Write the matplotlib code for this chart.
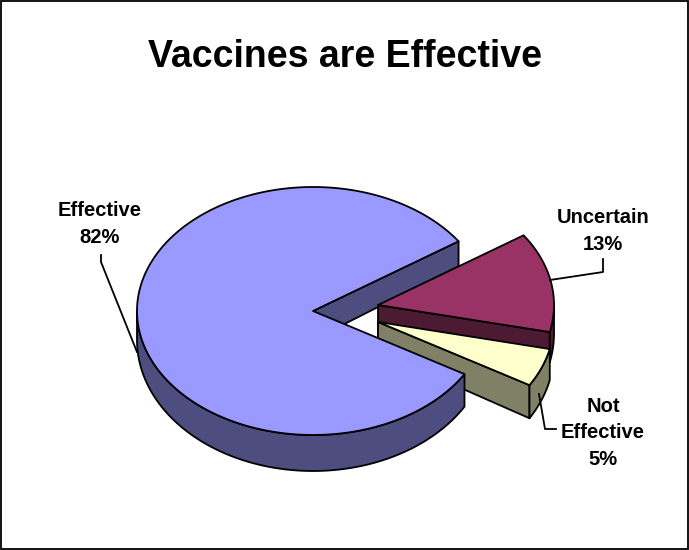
import numpy as np
import matplotlib
matplotlib.use("Agg")
import matplotlib.pyplot as plt
from matplotlib.patches import Polygon, Rectangle

# ---- data ----
labels = ["Effective", "Uncertain", "Not Effective"]
values = [82, 13, 5]
label_texts = ["Effective\n82%", "Uncertain\n13%", "Not\nEffective\n5%"]
title = "Vaccines are Effective"
top_colors = ["#9999FF", "#993366", "#FFFFCC"]
side_colors = ["#4D4D80", "#4D1A33", "#808066"]

# ---- geometry (pixel space) ----
W, H = 689, 550
CX, CY, RX, RY = 313, 311, 176, 124
START = -30.6           # degrees, slices go clockwise
explode_px = [(0, 0), (65, -6), (65, 11)]
label_pos = [(100, 224), (603, 231), (603, 433)]
leaders = [
    [(101, 255), (101, 262), (137, 352)],
    [(550, 280), (603, 272), (603, 259)],
    [(539, 394), (545, 429), (556, 429)],
]

plt.rcParams["font.family"] = ["Liberation Sans", "DejaVu Sans"]
fig = plt.figure(figsize=(W / 100, H / 100), dpi=100)
ax = fig.add_axes([0, 0, 1, 1])
ax.set_xlim(0, W)
ax.set_ylim(H, 0)
ax.axis("off")


def depth(y):
    return 25 + 0.057 * (y - 242)


def top_pts(th, off):
    t = np.radians(th)
    return (CX + RX * np.cos(t) + off[0], CY - RY * np.sin(t) + off[1])


def arc(lo, hi, off, n=200):
    ths = np.linspace(lo, hi, n)
    return [top_pts(t, off) for t in ths]


def down(p):
    return (p[0], p[1] + depth(p[1]))


LW = 1.3


def poly(pts, fc):
    ax.add_patch(Polygon(pts, closed=True, facecolor=fc, edgecolor="black",
                         linewidth=LW, joinstyle="round"))


# slices
total = sum(values)
slices = []
a = START
for i, v in enumerate(values):
    span = v / total * 360
    slices.append((a - span, a))
    a -= span


def draw_radial(i):
    lo, hi = slices[i]
    off = explode_px[i]
    tip = (CX + off[0], CY + off[1])
    for ang, vis in ((lo, np.cos(np.radians(lo)) > 0), (hi, np.cos(np.radians(hi)) < 0)):
        if vis:
            p = top_pts(ang, off)
            poly([tip, p, down(p), down(tip)], side_colors[i])


def draw_outer(i):
    lo, hi = slices[i]
    off = explode_px[i]
    for k in range(-3, 3):
        s = max(lo, 180 + 360 * k)
        e = min(hi, 360 + 360 * k)
        if s < e:
            tp = arc(s, e, off)
            bp = [down(p) for p in tp][::-1]
            poly(tp + bp, side_colors[i])


def draw_top(i):
    lo, hi = slices[i]
    off = explode_px[i]
    tip = (CX + off[0], CY + off[1])
    poly([tip] + arc(lo, hi, off), top_colors[i])


main = [i for i in range(len(values)) if explode_px[i] == (0, 0)]
exploded = [i for i in range(len(values)) if explode_px[i] != (0, 0)]
exploded.sort(key=lambda i: -np.sin(np.radians(sum(slices[i]) / 2)))

for i in main:
    draw_radial(i)
for i in exploded:
    draw_radial(i)
    draw_outer(i)
    draw_top(i)
for i in main:
    draw_outer(i)
    draw_top(i)

# labels and leader lines
for txt, (x, y) in zip(label_texts, label_pos):
    ax.text(x, y, txt, ha="center", va="center", fontsize=14.5,
            fontweight="bold", linespacing=1.5)
for line in leaders:
    xs, ys = zip(*line)
    ax.plot(xs, ys, color="black", linewidth=1.3)

ax.text(345, 57, title, ha="center", va="center", fontsize=27, fontweight="bold")

# outer frame
ax.add_patch(Rectangle((1, 1), W - 2, H - 2, fill=False, edgecolor="black", linewidth=1.3))

fig.savefig("out.png", dpi=100)
